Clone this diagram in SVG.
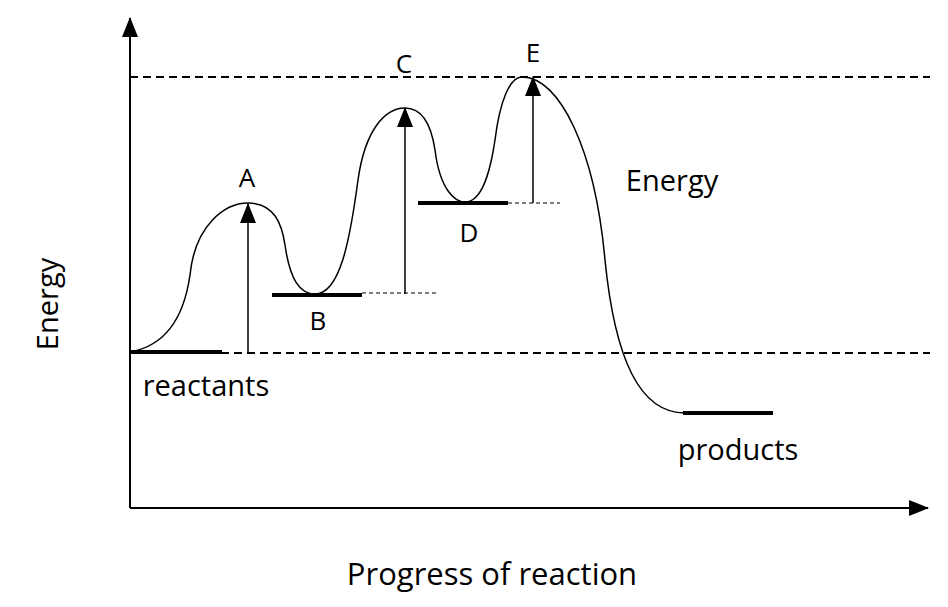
<svg xmlns="http://www.w3.org/2000/svg" width="948" height="607" viewBox="0 0 948 607">
<defs>
<marker id="big" markerWidth="20" markerHeight="16" refX="19" refY="8" orient="auto" markerUnits="userSpaceOnUse" viewBox="0 0 20 16"><path d="M0,0 L20,8 L0,16 z" fill="#000"/></marker>
</defs>
<style>
text{font-family:"Open Sans","Liberation Sans",sans-serif;font-size:29px;fill:#000}
.d{stroke:#000;stroke-width:2;stroke-dasharray:8,5;fill:none}
.t{stroke:#000;stroke-width:1;stroke-dasharray:4,3;fill:none}
.th{stroke:#000;stroke-width:4}
.a{stroke:#000;stroke-width:1.5;marker-end:url(#big)}
</style>
<rect width="948" height="607" fill="#fff"/>
<g id="axes" stroke="#000" stroke-width="2">
<line x1="130" y1="508" x2="130" y2="18" marker-end="url(#big)"/>
<line x1="130" y1="508" x2="928" y2="508" marker-end="url(#big)"/>
</g>
<line class="d" x1="130" y1="77" x2="930" y2="77"/>
<line class="d" x1="130" y1="353" x2="930" y2="353"/>
<path d="M130,352 C170,345 185,310 190,275 C195,225 225,203 248,203 C275,203 282,225 285,245 C290,280 300,294 315,294 C340,294 350,240 358,180 C365,130 385,108 405,108 C425,108 432,130 435,150 C440,190 455,202 465,202 C485,202 492,160 495,140 C500,100 510,77 522,77 C560,77 595,150 605,260 C615,360 640,413 685,413" fill="none" stroke="#000" stroke-width="1.5"/>
<g>
<line class="th" x1="130" y1="352" x2="222" y2="352"/>
<line class="th" x1="272" y1="295" x2="362" y2="295"/>
<line class="th" x1="418" y1="203" x2="508" y2="203"/>
<line class="th" x1="683" y1="413" x2="773" y2="413"/>
</g>
<g id="connectors">
<line class="a" x1="248" y1="353" x2="248" y2="204"/>
<line class="a" x1="405" y1="294" x2="405" y2="108"/>
<line class="a" x1="533" y1="203" x2="533" y2="77"/>
<line class="t" x1="362" y1="293" x2="437" y2="293"/>
<line class="t" x1="508" y1="203" x2="560" y2="203"/>
</g>
<text x="247" y="187" text-anchor="middle" style="font-size:26px">A</text>
<text x="318" y="330" text-anchor="middle" style="font-size:26px">B</text>
<text x="404" y="73" text-anchor="middle" style="font-size:26px">C</text>
<text x="469" y="242" text-anchor="middle" style="font-size:26px">D</text>
<text x="533" y="62" text-anchor="middle" style="font-size:26px">E</text>
<text x="672" y="191" text-anchor="middle">Energy</text>
<text x="206" y="396" text-anchor="middle">reactants</text>
<text x="738" y="460" text-anchor="middle">products</text>
<text x="492" y="585" text-anchor="middle" style="font-size:31px">Progress of reaction</text>
<text transform="translate(58,304) rotate(-90)" text-anchor="middle">Energy</text>
</svg>
